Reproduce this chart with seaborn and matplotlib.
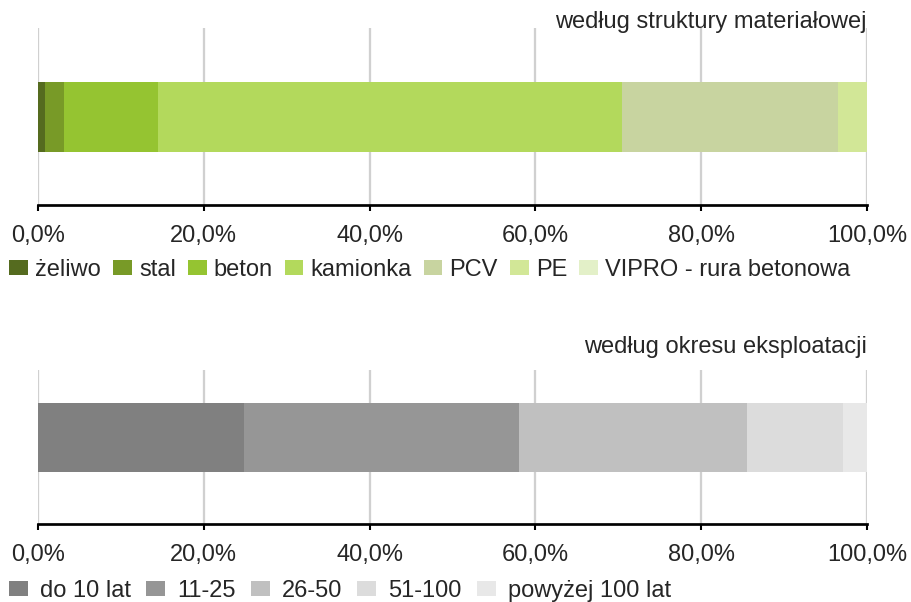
import numpy as np
import matplotlib
matplotlib.use("Agg")
import matplotlib.pyplot as plt
import seaborn as sns

# data (shares in %)
materials = ["żeliwo", "stal", "beton", "kamionka", "PCV", "PE", "VIPRO - rura betonowa"]
material_share = [0.85, 2.3, 11.3, 56.0, 26.1, 3.4, 0.05]
material_colors = ["#556b1f", "#789a27", "#95c431", "#b3d95c", "#c8d4a0", "#d2e797", "#e3f0c8"]

ages = ["do 10 lat", "11-25", "26-50", "51-100", "powyżej 100 lat"]
age_share = [24.85, 33.2, 27.5, 11.6, 2.85]
age_colors = ["#808080", "#969696", "#c0c0c0", "#dcdcdc", "#e8e8e8"]

ticks = [0, 20, 40, 60, 80, 100]
tick_labels = ["0,0%", "20,0%", "40,0%", "60,0%", "80,0%", "100,0%"]

sns.set_style("white")
plt.rcParams["font.family"] = ["Liberation Sans", "DejaVu Sans"]
plt.rcParams["font.size"] = 17

fig = plt.figure(figsize=(9.11, 6.02), dpi=100)
ax1 = fig.add_axes([38 / 911, (602 - 205) / 602, 829 / 911, 177 / 602])
ax2 = fig.add_axes([38 / 911, (602 - 524) / 602, 829 / 911, 154 / 602])


def stacked_bar(ax, names, shares, colors, bar_h):
    cum = np.cumsum(shares)
    # longest first, so the shorter ones sit on top
    for i in range(len(names) - 1, -1, -1):
        sns.barplot(x=[cum[i]], y=[0], orient="h", color=colors[i], width=bar_h,
                    saturation=1, native_scale=True, ax=ax, label=names[i],
                    linewidth=0)


def style(ax, title, ylim, title_off):
    ax.set_xlim(0, 100)
    ax.set_ylim(*ylim)
    ax.set_xticks(ticks)
    ax.set_xticklabels(tick_labels)
    ax.set_yticks([])
    ax.set_xlabel("")
    ax.set_ylabel("")
    ax.grid(axis="x", color="#d0d0d0", linewidth=1.65)
    ax.set_axisbelow(True)
    for s in ["top", "right", "left"]:
        ax.spines[s].set_visible(False)
    ax.spines["bottom"].set_color("black")
    ax.spines["bottom"].set_linewidth(1.95)
    ax.tick_params(axis="x", direction="out", length=4, width=1.5, color="black",
                   bottom=True, pad=10.5, labelsize=17)
    ax.annotate(title, xy=(1.0, 1.0), xycoords="axes fraction",
                xytext=(0, title_off), textcoords="offset pixels",
                ha="right", va="baseline", fontsize=17)
    if ax.get_legend() is not None:
        ax.get_legend().remove()


stacked_bar(ax1, materials, material_share, material_colors, 70 / 177)
style(ax1, "według struktury materiałowej", (-0.5, 0.5), 0)

stacked_bar(ax2, ages, age_share, age_colors, 69 / 154)
style(ax2, "według okresu eksploatacji", (-0.5617, 0.4383), 17)


def add_legend(ax, names, y, textpad, colspace):
    h, l = ax.get_legend_handles_labels()
    lookup = dict(zip(l, h))
    fig.legend([lookup[n] for n in names], names, loc="center left",
               bbox_to_anchor=(0.0, y), ncol=len(names), frameon=False,
               handlelength=0.8, handleheight=0.6, handletextpad=textpad,
               columnspacing=colspace, borderpad=0, borderaxespad=0.4, fontsize=17)


add_legend(ax1, materials, 1 - 270 / 602, 0.3, 0.5)
add_legend(ax2, ages, 1 - 591 / 602, 0.5, 0.65)

fig.savefig("out.png", dpi=100)
